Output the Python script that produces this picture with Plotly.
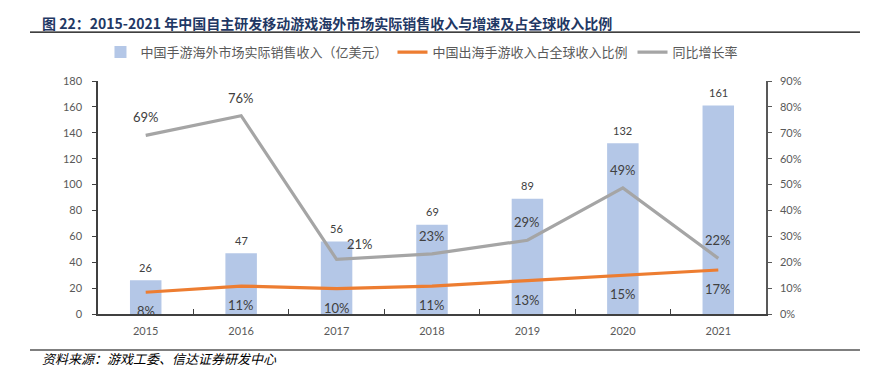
import plotly.graph_objects as go

years = ["2015", "2016", "2017", "2018", "2019", "2020", "2021"]
revenue = [26, 47, 56, 69, 89, 132, 161]
share = [0.084, 0.108, 0.098, 0.108, 0.129, 0.151, 0.170]
share_labels = ["8%", "11%", "10%", "11%", "13%", "15%", "17%"]
growth = [0.69, 0.766, 0.211, 0.232, 0.285, 0.487, 0.215]
growth_labels = ["69%", "76%", "21%", "23%", "29%", "49%", "22%"]
left_ticks = [0, 20, 40, 60, 80, 100, 120, 140, 160, 180]
right_ticks = [0, 0.1, 0.2, 0.3, 0.4, 0.5, 0.6, 0.7, 0.8, 0.9]

NUM_FONT = "Lato, 'Noto Sans CJK SC', sans-serif"
CJK_FONT = "'Noto Sans CJK SC', sans-serif"

fig = go.Figure()
fig.add_trace(go.Bar(
    x=years, y=revenue, name="中国手游海外市场实际销售收入（亿美元）",
    marker=dict(color="#B4C7E7", line=dict(width=0)), width=0.33,
))
fig.add_trace(go.Scatter(
    x=years, y=share, name="中国出海手游收入占全球收入比例", yaxis="y2",
    mode="lines", line=dict(color="#ED7D31", width=3.2),
))
fig.add_trace(go.Scatter(
    x=years, y=growth, name="同比增长率", yaxis="y2",
    mode="lines", line=dict(color="#A5A5A5", width=3.2),
))

ann = []
for i, v in enumerate(revenue):
    ann.append(dict(x=i, y=v, xref="x", yref="y", text=str(v), showarrow=False,
                    yshift=13, font=dict(size=11, color="#404040", family=NUM_FONT)))
for i, (v, t) in enumerate(zip(share, share_labels)):
    ann.append(dict(x=i, y=v, xref="x", yref="y2", text=t, showarrow=False,
                    yshift=-19, font=dict(size=13, color="#404040", family=NUM_FONT)))
for i, (v, t) in enumerate(zip(growth, growth_labels)):
    if i == 2:
        ann.append(dict(x=i, y=v, xref="x", yref="y2", text=t, showarrow=False,
                        xshift=23, yshift=15, font=dict(size=13, color="#404040", family=NUM_FONT)))
    else:
        ann.append(dict(x=i, y=v, xref="x", yref="y2", text=t, showarrow=False,
                        yshift=18, font=dict(size=13, color="#404040", family=NUM_FONT)))

ann.append(dict(x=-0.087, y=1.249, xref="paper", yref="paper", xanchor="left", yanchor="middle",
                text="<b>图 22：2015-2021 年中国自主研发移动游戏海外市场实际销售收入与增速及占全球收入比例</b>",
                showarrow=False, font=dict(size=14, color="#1F3864", family=CJK_FONT)))
ann.append(dict(x=-0.087, y=-0.19, xref="paper", yref="paper", xanchor="left", yanchor="middle",
                text="<i>资料来源：游戏工委、信达证券研发中心</i>",
                showarrow=False, font=dict(size=13, color="#000000", family=CJK_FONT)))

shapes = [
    dict(type="line", xref="paper", yref="paper", x0=-0.1018, x1=1.1407, y0=1.210, y1=1.210,
         line=dict(color="#000000", width=1.2)),
    dict(type="line", xref="paper", yref="paper", x0=-0.1018, x1=1.1407, y0=-0.1545, y1=-0.1545,
         line=dict(color="#000000", width=1.2)),
]

fig.update_layout(
    width=875, height=379,
    margin=dict(l=90, r=117, t=73, b=73),
    paper_bgcolor="white", plot_bgcolor="white",
    showlegend=True,
    legend=dict(orientation="h", x=0.485, xanchor="center", y=1.124, yanchor="middle",
                font=dict(size=13, color="#595959", family=CJK_FONT),
                itemwidth=30, tracegroupgap=0, bgcolor="rgba(0,0,0,0)"),
    annotations=ann,
    shapes=shapes,
    xaxis=dict(type="category", categoryorder="array", categoryarray=years,
               range=[-0.5, 6.5],
               showline=True, linecolor="#404040", linewidth=1.5,
               ticks="inside", tickson="boundaries", ticklen=5, tickcolor="#404040",
               tickfont=dict(size=11, color="#595959", family=NUM_FONT),
               showgrid=False, ticklabelstandoff=6),
    yaxis=dict(range=[0, 180], tickvals=left_ticks, showline=True, linecolor="#404040",
               linewidth=1.5, ticks="outside", ticklen=4, tickcolor="#404040",
               tickfont=dict(size=11, color="#595959", family=NUM_FONT),
               showgrid=False, zeroline=False, ticklabelstandoff=8),
    yaxis2=dict(range=[0, 0.9], tickvals=right_ticks, tickformat=".0%", overlaying="y",
                side="right", showline=True, linecolor="#595959", linewidth=1.5,
                ticks="outside", ticklen=4, tickcolor="#595959",
                tickfont=dict(size=11, color="#595959", family=NUM_FONT),
                showgrid=False, zeroline=False, ticklabelstandoff=6),
)

fig.write_html("out.html")
